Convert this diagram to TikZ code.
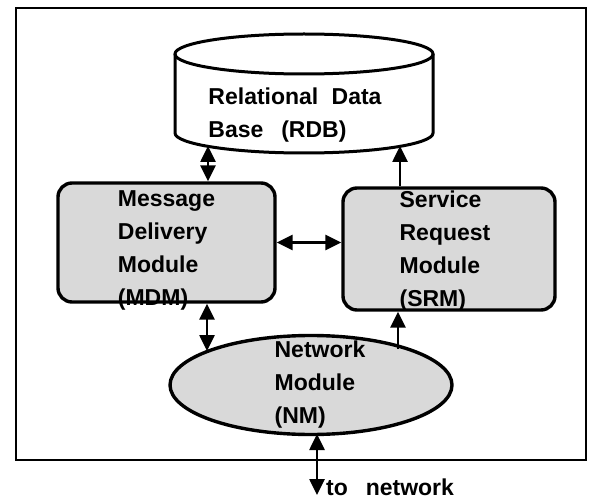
\documentclass[tikz,border=0pt]{standalone}
\usepackage{amsmath}
\usepackage{fontspec}
\setmainfont{Liberation Sans}
\usetikzlibrary{arrows.meta,shapes.geometric}

\tikzset{
  modbox/.style={draw,rounded corners=14pt,line width=3.4pt,fill=black!15},
  modtext/.style={align=left,inner sep=0pt,font=\fontsize{23}{33}\selectfont\bfseries},
  link/.style={line width=2.6pt,-{Triangle[length=16pt,width=15pt]}},
  dlink/.style={line width=2.6pt,{Triangle[length=16pt,width=15pt]}-{Triangle[length=16pt,width=15pt]}}
}

\begin{document}
\begin{tikzpicture}[x=1pt,y=-1pt]
  \useasboundingbox (0,0) rectangle (589,500);
  \draw[line width=2pt] (16,8) rectangle (586,460);
  % data base drum
  \draw[line width=3pt] (175,54) -- (175,133) arc[start angle=180,end angle=0,x radius=129,y radius=20] -- (433,54);
  \draw[line width=3pt] (304,54) ellipse[x radius=129,y radius=20];
  \node[modtext] (rdb) at (295,115) {Relational\hspace{0.3em} Data\\Base\hspace{0.5em} (RDB)};
  \coordinate (rdbL) at (208,146); \coordinate (rdbR) at (400,146);
  % modules
  \node[modbox,minimum width=217,minimum height=119] (mdm) at (166.5,242.5) {};
  \node[modtext] (mdmtext) at ([yshift=-8pt]mdm.center) {Message\\Delivery\\Module\\(MDM)};
  \node[modbox,minimum width=212,minimum height=122] (srm) at (449,249) {};
  \node[modtext] (srmtext) at ([xshift=-4pt,yshift=-2pt]srm.center) {Service\\Request\\Module\\(SRM)};
  \node[ellipse,draw,line width=3.4pt,fill=black!15,minimum width=282,minimum height=99] (nm) at (311,385) {};
  \node[modtext] (nmtext) at ([xshift=9pt,yshift=0pt]nm.center) {Network\\Module\\(NM)};
  \coordinate (nmL) at (207,351); \coordinate (nmR) at (398,349); \coordinate (nmB) at (317,434);
  \node[modtext,anchor=base west] (tonet) at (326,495) {to\hspace{0.5em} network};
  % connectors
  \draw[dlink] (rdbL) -- (rdbL |- mdm.north);
  \draw[link] (rdbR |- srm.north) -- (rdbR);
  \draw[dlink] (mdm.east) -- (mdm.east -| srm.west);
  \draw[dlink] (mdm.south -| nmL) -- (nmL);
  \draw[link] (nmR) -- (nmR |- srm.south);
  \draw[dlink] (nmB) -- (nmB |- tonet.base);
\end{tikzpicture}
\end{document}
